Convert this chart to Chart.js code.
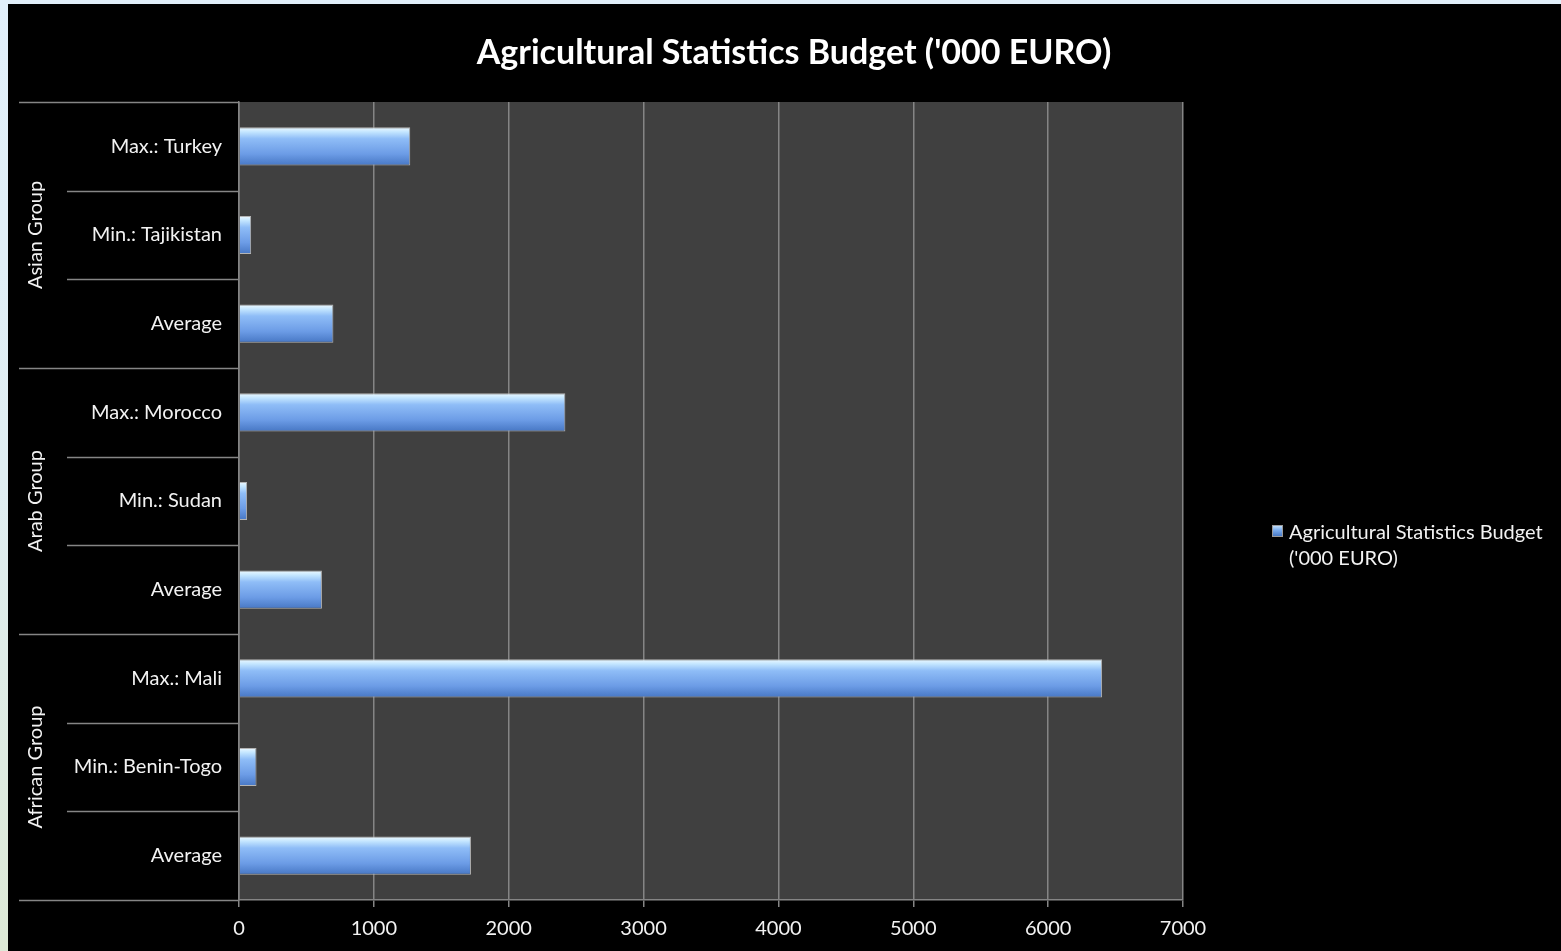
<!DOCTYPE html>
<html>
<head>
<meta charset="utf-8">
<script src="https://cdn.jsdelivr.net/npm/chart.js@4"></script>
<style>
  html, body { margin: 0; padding: 0; width: 1561px; height: 951px; overflow: hidden;
    background: linear-gradient(to bottom, #e2f0fb 0%, #e0eef2 50%, #dde9d6 100%); }
  #wrap { position: absolute; left: 8px; top: 4px; width: 1553px; height: 947px; background: #000; }
  canvas { display: block; }
</style>
</head>
<body>
<div id="wrap"><canvas id="c"></canvas></div>
<script>
// ---- data ----
const chartTitle = "Agricultural Statistics Budget ('000 EURO)";
const seriesName = ["Agricultural Statistics Budget", "('000 EURO)"];
const groups = ["African Group", "Arab Group", "Asian Group"];
const groupSizes = [3, 3, 3];
const categories = ["Average", "Min.: Benin-Togo", "Max.: Mali",
                    "Average", "Min.: Sudan", "Max.: Morocco",
                    "Average", "Min.: Tajikistan", "Max.: Turkey"];
const budget = [1720, 130, 6400, 615, 60, 2420, 700, 90, 1270];
const xMin = 0, xMax = 7000, xStep = 1000;

// ---- styling ----
const FONT = "Lato, 'Open Sans', sans-serif";
const GRID = "#858585";
const TEXT = "#f2f2f2";
const BAR_PCT = 0.43;
const LABEL_SIZE = 20;

function barGradient(ctx, y0, y1) {
  const g = ctx.createLinearGradient(0, y0, 0, y1);
  g.addColorStop(0, "#eefaff");
  g.addColorStop(0.12, "#c4e6ff");
  g.addColorStop(0.3, "#8fbdf7");
  g.addColorStop(0.7, "#6c9ce6");
  g.addColorStop(1, "#4777c4");
  return g;
}

const plotBg = {
  id: "plotBg",
  beforeDraw(chart) {
    const { ctx, chartArea: a } = chart;
    ctx.save();
    ctx.fillStyle = "#404040";
    ctx.fillRect(a.left, a.top, a.right - a.left, a.bottom - a.top);
    ctx.restore();
  }
};

const decor = {
  id: "decor",
  afterDraw(chart) {
    const { ctx, chartArea: a } = chart;
    const ys = chart.scales.y;
    ctx.save();
    // title
    ctx.fillStyle = "#ffffff";
    ctx.font = "bold 34px " + FONT;
    ctx.textAlign = "center";
    ctx.textBaseline = "middle";
    ctx.fillText(chartTitle, 786, 49);

    // label-area lines
    ctx.strokeStyle = GRID;
    ctx.lineWidth = 1.5;
    const groupEdges = new Set();
    let acc = 0;
    groupEdges.add(0);
    groupSizes.forEach(s => { acc += s; groupEdges.add(acc); });
    for (let i = 0; i <= categories.length; i++) {
      const y = Math.round(ys.getPixelForValue(i - 0.5)) + 0.5;
      const x0 = groupEdges.has(i) ? 11 : 59;
      ctx.beginPath();
      ctx.moveTo(x0, y);
      ctx.lineTo(a.left, y);
      ctx.stroke();
    }
    // group labels
    ctx.fillStyle = TEXT;
    ctx.font = LABEL_SIZE + "px " + FONT;
    ctx.textAlign = "center";
    ctx.textBaseline = "middle";
    let start = 0;
    groups.forEach((g, gi) => {
      const mid = start + (groupSizes[gi] - 1) / 2;
      const y = ys.getPixelForValue(mid);
      ctx.save();
      ctx.translate(28, y);
      ctx.rotate(-Math.PI / 2);
      ctx.fillText(g, 0, 0);
      ctx.restore();
      start += groupSizes[gi];
    });

    // legend
    const lx = 1264, ly = 521;
    const lg = ctx.createLinearGradient(0, ly, 0, ly + 12);
    lg.addColorStop(0, "#cfe9ff");
    lg.addColorStop(0.4, "#7fb0f0");
    lg.addColorStop(1, "#3f70bf");
    ctx.fillStyle = lg;
    ctx.fillRect(lx, ly, 11, 12);
    ctx.strokeStyle = "#9a9a9a";
    ctx.lineWidth = 1;
    ctx.strokeRect(lx + 0.5, ly + 0.5, 10, 11);
    ctx.fillStyle = TEXT;
    ctx.font = LABEL_SIZE + "px " + FONT;
    ctx.textAlign = "left";
    ctx.textBaseline = "middle";
    ctx.fillText(seriesName[0], 1281, 529);
    ctx.fillText(seriesName[1], 1281, 555);
    ctx.restore();
  }
};

new Chart(document.getElementById("c"), {
  type: "bar",
  data: {
    labels: categories,
    datasets: [{
      label: seriesName.join(" "),
      data: budget,
      backgroundColor: (c) => {
        if (c.type !== "data" || !c.chart.scales.y) return "#7fb0f0";
        const ys = c.chart.scales.y;
        const yc = ys.getPixelForValue(c.dataIndex);
        const h = Math.abs(ys.getPixelForValue(0.5) - ys.getPixelForValue(-0.5)) * BAR_PCT;
        if (!isFinite(yc) || !isFinite(h)) return "#7fb0f0";
        return barGradient(c.chart.ctx, yc - h / 2, yc + h / 2);
      },
      borderColor: "#b4b4b4",
      borderWidth: 1,
      borderSkipped: "left",
      categoryPercentage: 1,
      barPercentage: BAR_PCT
    }]
  },
  options: {
    indexAxis: "y",
    responsive: true,
    maintainAspectRatio: false,
    animation: false,
    layout: { padding: { top: 98, right: 378, bottom: 0, left: 0 } },
    plugins: {
      legend: { display: false },
      title: { display: false },
      tooltip: { enabled: false }
    },
    scales: {
      x: {
        type: "linear",
        min: xMin, max: xMax,
        ticks: { stepSize: xStep, color: TEXT, font: { family: FONT, size: LABEL_SIZE }, padding: 10,
                 callback: (v) => String(v) },
        grid: { color: GRID, lineWidth: 1.5, tickLength: 7, drawTicks: true },
        border: { display: true, color: GRID, width: 1.5 },
        afterFit(s) { s.height = 51; }
      },
      y: {
        type: "category",
        reverse: true,
        offset: true,
        ticks: { color: TEXT, font: { family: FONT, size: LABEL_SIZE }, padding: 17, autoSkip: false },
        grid: { display: false, drawTicks: false },
        border: { display: true, color: GRID, width: 1.5 },
        afterFit(s) { s.width = 231; }
      }
    }
  },
  plugins: [plotBg, decor]
});
</script>
</body>
</html>
